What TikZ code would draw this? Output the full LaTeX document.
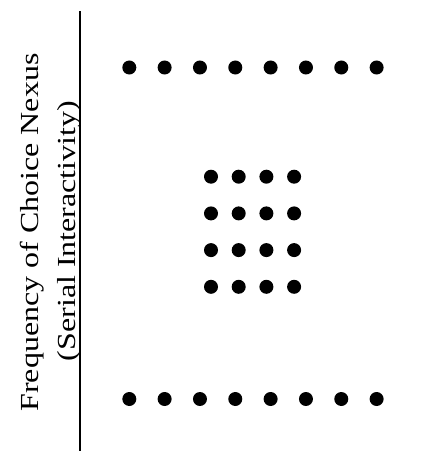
\documentclass[tikz,border=0pt]{standalone}
\usepackage{fontspec}
\setmainfont{Liberation Serif}
\begin{document}
\begin{tikzpicture}[x=1pt,y=-1pt,
  dotnode/.style={circle,fill=black,inner sep=0pt,minimum size=14pt},
  axislabel/.style={rotate=90,anchor=base,inner sep=0pt,font=\fontsize{26}{30}\selectfont},
  axisline/.style={line width=2.4pt}]
\useasboundingbox (0,0) rectangle (437,452);
\coordinate (axtop) at (80,11.5);
\coordinate (axbot) at (80,451);
\draw[axisline] (axtop) -- (axbot);
\node[axislabel] (lab1) at (38.5,232.5) {\scalebox{1.23}[1]{Frequency of Choice Nexus}};
\node[axislabel] (lab2) at (75.5,231) {\scalebox{1.23}[1]{(Serial Interactivity)}};
\foreach \i in {0,...,7}{
  \node[dotnode] (t\i) at ({129.3+35.33*\i},67.5) {};
  \node[dotnode] (b\i) at ({129.3+35.33*\i},399) {};
}
\foreach \j in {0,...,3}{
  \foreach \k in {0,...,3}{
    \node[dotnode] (g\j\k) at ({211+27.7*\j},{176.7+36.7*\k}) {};
  }
}
\end{tikzpicture}
\end{document}
